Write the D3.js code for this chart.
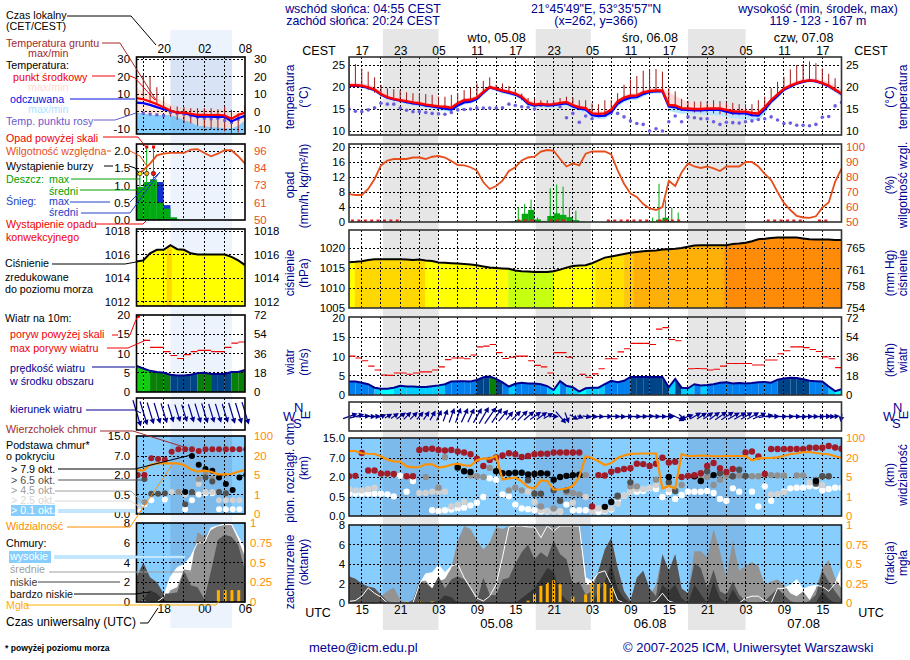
<!DOCTYPE html>
<html>
<head>
<meta charset="utf-8">
<script src="https://cdn.jsdelivr.net/npm/d3@7"></script>
<style>
  body { margin: 0; background: #fff; }
  text { font-family: "Liberation Sans", Arial, sans-serif; }
</style>
</head>
<body>
<svg width="910" height="660"></svg>
<script>
// ---- hourly values of the main panels, hour 0 = 13 UTC 04.08
const tempMid = [20.4,20.4,20.3,19.9,19.4,18.4,17.7,17.3,17.0,16.8,
  16.5,16.3,16.0,15.8,15.6,15.5,15.3,16.3,17.0,17.1,
  17.6,18.9,20.0,19.6,19.2,18.9,18.5,17.8,16.5,16.0,
  16.2,16.0,16.1,16.4,16.6,15.9,15.4,15.2,14.0,13.9,
  14.0,14.8,16.7,17.6,18.0,18.1,18.8,19.1,19.2,19.2,
  15.9,15.8,15.2,15.1,15.0,15.0,15.1,15.1,15.1,14.8,
  14.5,14.4,14.4,14.1,14.0,15.4,17.0,18.3,19.6,20.3,
  20.9,21.3,21.5,21.4,20.9,20.3,19.4,18.5];
const tempFeel = [20.3,20.3,20.2,19.8,19.3,18.3,17.6,17.2,16.9,16.6,
  16.3,16.1,15.8,15.6,15.3,15.1,14.9,15.8,16.5,16.7,
  17.3,18.7,19.9,19.5,19.0,18.7,18.3,17.6,16.2,15.8,
  16.0,15.8,15.9,16.1,16.3,15.6,15.1,14.9,13.6,13.4,
  13.5,14.3,16.2,17.1,17.6,17.7,18.4,18.9,19.0,19.0,
  15.6,15.4,14.9,14.8,14.7,14.7,14.8,14.8,14.8,14.4,
  14.1,14.0,14.0,13.6,13.5,14.9,16.7,18.0,19.4,20.1,
  20.8,21.2,21.5,21.3,20.8,20.2,19.3,18.4];
const tempHi = [21,21,20.9,20.6,20,19.2,18.6,18.1,17.6,17.3,
  17,16.8,16.4,16.2,16,16,15.8,16.8,17.5,17.6,
  18.2,19.5,20.5,20.1,19.7,19.4,19,18.6,17.2,16.6,
  16.8,16.6,16.7,17,17.2,16.5,16,15.8,14.6,14.5,
  14.5,15.4,17.2,18.2,18.6,18.7,19.4,19.7,19.8,19.8,
  18.8,18,17.3,16.6,16.2,16.1,16.1,16.2,16.1,15.8,
  15.4,15.2,15.2,15,14.8,16,17.5,18.8,20,20.8,
  21.5,21.9,22,22,21.6,21.2,20.5,19.5];
const tempLo = [20,20,19.8,19.4,18.8,17.9,17.2,16.8,16.4,16.1,
  15.8,15.5,15.2,15,14.7,14.5,14.3,15.2,16,16.2,
  16.8,18.2,19.5,19,18.5,18.2,17.8,17,15.6,15.2,
  15.4,15.2,15.3,15.5,15.7,15,14.5,14.2,13,12.7,
  12.8,13.6,15.6,16.5,17,17.1,17.8,18.4,18.5,18.5,
  14.6,14.2,13.9,13.9,13.8,13.8,13.7,13.6,13.5,13.1,
  12.9,12.8,12.6,12.4,12.5,13.8,16,17.4,18.9,19.7,
  20.4,20.9,21.1,21,20.4,19.7,18.8,17.8];
const groundMax = [26.5,25.2,24.2,23.5,22.2,20.5,19.7,19.5,19.3,18.8,
  18.6,18.6,18.4,18.2,17.8,17.8,18.2,18.6,19.3,19.8,
  20.8,21.4,22.2,20.5,20.8,20.2,19.5,18.5,17.5,17.3,
  17,17,17,17.5,17.8,17.6,17,17,16.3,16.1,
  17,17,18.6,20.5,21.7,22.5,23.7,24,24.1,23.5,
  19.7,19,17.3,16.8,16.7,16.7,16.7,17,16.8,16.5,
  16.4,16.1,16.1,16.1,17,17.8,19.7,21.2,22.3,24,
  25,25.2,25.8,25.4,24.2,23,22,19.8];
const groundMin = [20,20,19.8,19.3,18.7,17.8,17.4,17,16.6,16.3,
  16,15.8,15.5,15.3,15.2,15,14.9,16,16.6,16.8,
  17.3,18.6,19.6,19.3,19,18.6,18,17,16,15.7,
  15.8,15.7,15.7,15.9,16,15.4,14.9,14.7,13.6,13.4,
  13.4,14.4,16.4,17.2,17.6,17.8,18.5,18.8,18.8,18.8,
  15.6,15.3,14.6,14.4,14.2,14.2,14.2,14,13.8,13.6,
  13.6,13.6,13.5,13.3,13.4,14.8,16.6,18,19.2,20,
  20.6,21,21.2,21,20.6,20,19,18.2];
const dewPoint = [15,14.5,14.4,14.8,15.3,16.3,16.1,16.1,15.2,14.7,
  14.4,14.4,14.2,14,13.9,13.8,14.2,14.8,14.9,15,
  15.2,15.2,15.2,15.2,15.3,16.1,15.8,15.5,15.4,15,
  15.8,16,16.1,15.5,13,14,12,13.4,12.8,13.6,
  13.6,14.2,14,13.2,12.3,11.7,11.5,10,10.5,10,
  12.1,13.4,12.1,13.2,13,12.8,12.8,12.1,11.5,12,
  11.9,11.8,12.1,12.3,12.6,12.8,13.2,12.5,11.7,11.8,
  11.3,11.3,11.2,11.5,13.1,13.3,15.7,16.5];
const humidity = [68.6,68,68,72,78.7,87.7,91,92,92,92,
  93,93,92,93.5,94,93,90.6,88,87.7,86.5,
  84.3,76.5,72,74,77.6,84,86.5,91,93,93.5,
  97,98,97.5,92,87,89,87.7,95.5,97,97,
  97,95,84.4,75.5,69,66.7,62,59,58,60,
  77.5,74,83,89,87,86,87,85.7,84,87,
  87,87,90,90,87,82,78,70,62.7,58,
  54,53,52.7,53.8,59.6,63,76.7,85.6];
const rainMean = [[24,.1],[25,.2],[26,.5],[27,2.2],[28,3.2],[29,.7],[30,.3],[31,1.6],[32,2.3],[33,1.9],[34,1.3],[35,.5],[36,.1],
  [47,.1],[48,.6],[49,1.15],[50,.3],[51,.2],[52,.1]];
const rainMax = [[26,3.9],[27,4.8],[28,6],[29,1.2],[31,9],[32,10],[33,9.4],[34,4],[35,3],[47,1.2],[48,10.2],[49,5.8],[50,3.8],[51,2.5]];
const convective = [0,1,2,3,4,5,6,7,26,27,28,31,32,33,40,41,42,43,44,45,46,48,49,50,51,65,66,67,68,69,70,73,74];
const pressure = [1016.45,1016.55,1016.7,1017,1017.2,1017.2,1017.2,1017.2,1017.2,1017.1,
  1017,1017.1,1016.9,1016.75,1016.4,1016.3,1016.2,1016.1,1016,1015.9,
  1015.7,1015.4,1015.1,1015,1014.9,1014.8,1014.4,1014.2,1014.1,1014,
  1014,1014,1014.2,1014.6,1015.1,1015.5,1015.6,1015.7,1016.2,1016.9,
  1017.6,1017.9,1018.2,1018.5,1018.8,1019,1019.2,1019.3,1019.4,1019.6,
  1019.7,1019.8,1020,1020.3,1020.6,1020.7,1020.7,1020.7,1020.7,1020.7,
  1021,1021.1,1021.3,1021.7,1022.2,1022.3,1022.5,1022.6,1022.6,1022.6,
  1022.6,1022.4,1022.2,1022.1,1022.1,1022.1,1022,1022];
// pressure fill class runs: [hour where the run ends, class]
const pressureRuns = [[0.9,1],[11.9,2],[24.9,1],[31.9,0],[38.5,1],[43,3],[44.5,4],[58.7,5],[77,6]];
const windSpeed = [3.5,3.5,3.2,2.8,1.9,1.6,1.6,1.9,2.4,2.2,
  2.2,2.1,2.1,2.3,2.5,2.8,3.5,3.6,3.6,3.5,
  3.9,4.6,4.8,4.2,3.3,2.2,2.9,3.2,3,3,
  2.8,2.3,1.3,3.6,2.4,2,0.9,1.75,1.9,1.9,
  2.8,3.7,3.3,3.7,4.7,4.7,4.7,4.7,4.7,4.7,
  2,4.2,1.9,1.75,2.8,2.5,2.6,2.8,3.2,3.3,
  3,3.1,3,3.1,3.3,3.4,3.2,4,4.3,4.5,
  4.4,4.1,3.7,3.6,3.5,2.2,1,1.5];
const windGust = [10.1,9.6,8.9,7.5,6.5,5.2,5.1,5.7,5.7,5.4,
  5.7,6,6,6.5,7.3,9.2,9.6,9.6,9.4,10.4,
  12.5,12.7,13.1,11,9.5,9.8,10.1,10.1,8.9,7.7,
  7.3,5.7,11,11,9.8,null,5.4,4.6,5.5,6.8,
  9.4,9.4,11.2,12,13.4,13.4,13.4,13.1,17.1,17.5,
  14.4,14.1,null,6.8,6.9,6.8,6.5,6.7,7.5,8.2,
  8.2,8.2,8.2,7.8,7.8,9.1,9.1,10.7,11.5,12.5,
  12.5,12.3,11.8,11.3,9.9,9.4,7.1,4.9];
const windFrom = [250,255,265,270,265,250,240,235,235,225,
  225,220,215,210,205,200,200,200,205,205,
  210,210,215,215,220,220,225,225,230,235,
  235,240,270,320,340,300,290,280,275,272,
  270,270,272,270,270,270,268,270,270,270,
  268,295,310,250,240,238,236,235,236,238,
  240,240,238,240,245,260,268,270,270,270,
  272,270,270,270,268,270,265,10];
const visibility = [48,48,39,37,36,27,18.7,17.4,17.1,13.4,
  12.6,12.9,15,15,12.4,13.2,14.7,15.5,14.2,13.9,
  18.2,19.7,19.5,28,4.5,4.7,4.9,4.1,3,2.7,
  4.3,4.2,2.5,2.5,2.7,3.2,5,27,20,17.4,
  14.5,16,20.5,30,36.7,37,38,38,38,2.7,
  3.2,2.7,35,28,28,30,29,27,27,28,
  28,28,28,18.2,19.7,20,20.5,22.6,29,36,
  38,43,44,40,37,35,27,21];
// cloud base / top as [hour, km]
const cloudTop = [[0,2.2],[1,2.3],[2,9],[3,3.7],[4,3.7],[5,2.9],[6,2.9],[7,2.8],[9,2.2],[10,2.2],[11,10.2],[12,10.6],[13,10.7],[14,10.2],[15,10],[16,10.2],[17,9.6],[18,9.2],[19,8.5],[20,6.8],[21,4.9],[22,6.5],[23,7.2],[24,8],[25,8.9],[26,8.5],[27,7.4],[28,7.8],[29,8.5],[30,8.7],[31,8.7],[32,9.2],[33,9.2],[34,9.2],[35,9.2],[36,9.2],[38,.25],[39,2.5],[40,2.4],[41,3.4],[42,3.8],[43,4.1],[44,4.3],[45,5.5],[46,5.4],[47,4.9],[48,5.5],[49,7.1],[50,5.8],[51,6],[52,2],[53,2.3],[54,2.5],[55,3],[56,4.9],[57,5.7],[58,4.3],[59,3.3],[60,4.1],[62,9.2],[63,9.6],[64,7.6],[65,2.8],[66,10.6],[67,10.6],[68,10.6],[69,10.6],[70,10.6],[71,10.6],[72,11.1],[73,11.1],[74,11.1],[75,11.8],[76,11.2],[77,10.7]];
const base79 = [[17,4.6],[18,3.5],[19,3.3],[23,3.5],[24,3],[25,3],[26,3.1],[27,3.1],[28,2.7],[29,2.8],[30,3],[31,2.9],[32,1.8],[33,2],[34,2.3],[35,2.5],[36,2.6],[40,.24],[41,.37],[50,2],[54,2.2],[55,1.7],[57,2.5],[73,1.7]];
const base65 = [[17,4.4],[28,1.75],[29,.75],[30,.75],[32,1],[33,.4],[34,1],[42,.6],[44,1.6],[50,1.6],[51,.95],[56,3.5],[58,3],[60,2.2],[61,3.9],[62,2.3],[73,1.5],[74,2.2],[75,2.2]];
const base45 = [[6,2.9],[12,2],[14,1.2],[15,7.3],[19,2.4],[20,2.2],[21,2],[22,4.4],[25,1],[26,1.2],[27,1],[30,.25],[32,.2],[34,.85],[35,.8],[36,.7],[37,2.5],[42,.5],[44,1.3],[45,1.3],[48,1.8],[52,1.4],[55,1.85],[56,2],[57,1.4],[58,1.8],[59,2.3],[60,2.2],[61,2.4],[62,2.2],[63,2.2],[64,2.2],[65,2.7],[66,2.5],[67,2.4],[68,2.4],[70,2.4],[71,2.4],[73,1.8]];
const base25 = [[0,1.1],[1,1],[2,1],[3,1.1],[4,1.2],[6,2.7],[7,2.7],[11,.8],[12,.8],[13,.9],[14,.9],[15,.9],[16,.25],[17,.3],[18,.37],[28,.9],[29,.37],[30,.15],[31,.13],[32,.12],[33,.12],[35,.35],[37,.5],[38,.12],[39,.2],[40,.15],[41,.2],[42,.32],[43,.6],[44,.9],[45,1.1],[46,1.1],[47,1.2],[48,1.4],[50,1.1],[66,.7],[67,.72],[68,.85],[72,1.6],[73,1.5],[74,1.4]];
const base01 = [[0,.75],[1,.75],[2,.75],[3,.75],[4,.75],[5,.75],[6,.7],[7,.55],[8,2.3],[9,.9],[10,1.7],[13,.15],[14,.13],[15,.15],[16,.17],[17,.2],[18,.22],[19,.28],[20,.35],[21,.5],[22,1.9],[23,1.8],[24,.7],[25,.55],[26,.3],[27,.2],[28,.18],[29,.15],[30,.12],[31,.12],[32,.12],[33,.12],[34,.3],[35,.15],[36,.15],[37,.15],[38,.13],[39,.11],[40,.13],[41,.17],[42,.4],[43,.6],[44,.9],[45,.9],[46,.95],[47,1.15],[48,1.1],[49,.5],[50,.85],[51,.45],[52,.65],[53,.9],[54,.9],[55,.9],[56,.95],[57,.8],[58,.45],[59,.4],[60,1.15],[61,.9],[63,.9],[64,.25],[65,1.3],[66,.4],[68,.9],[69,1.15],[70,1.2],[71,1.2],[72,1.3],[73,1.3],[74,1],[75,1.1],[76,1.2],[77,1.2]];
const coverHigh = [.17,.25,.7,1.55,1,.6,0,0,0,0,
  0,1.9,3,3.1,3.9,3.1,3.8,4,2.6,1.55,
  .5,.2,.7,1.9,4.7,7.8,7.9,7.9,7.8,7.8,
  6.7,7.9,7.4,7.9,7.9,7.9,7.9,2.6,2.2,3.1,
  3.3,1.9,.3,0,0,0,0,0,.2,1,
  .2,0,0,0,0,0,0,0,0,0,
  0,0,.5,.7,.7,.2,0,1.5,1.5,1.8,
  2.4,1.4,1.7,1.8,1.7,1.2,2,3.6];
const coverMid = [0,0,0,0,0,.7,1.2,1.6,.35,0,
  0,2.2,2.3,1.5,2.2,2.5,3.6,6.4,7.9,7.6,
  6.4,5.5,6.2,7.8,7.6,7.9,7.9,7.9,7.9,7.9,
  7.9,7.9,7.9,7.9,7.9,7.9,7.9,1.9,1.9,3.3,
  5.5,6.7,3.6,1.2,.2,2.6,3.3,.7,1.9,5,
  3.3,5,1.5,1,5.3,5.3,4.7,7.6,5.3,2.6,
  6.4,3.3,3.8,4.2,3.8,1.9,2.2,2.4,1.9,1,
  .7,1.2,.3,1.5,3.6,4.4,2.6,1.5];
const coverLow = [2.75,2.5,2,1.7,1.55,.85,.2,0,0,0,
  .3,2.2,2,1.5,2.75,1.5,2.4,2.75,2.4,1.5,
  .2,2.6,.85,.8,2.4,2.6,4,5.2,6,4.5,
  5.2,4.7,6.4,5,4.5,1.9,2.2,.85,1.2,3.3,
  5.5,6.7,3.6,1.2,.2,2.6,3.3,1.5,.7,5,
  3.3,5,1.5,1,4.1,3.6,1.5,3.4,1.2,.85,
  2.2,.85,.2,0,0,.2,.85,1.5,.85,.2,
  0,0,.2,.85,3.3,2.2,1.2,.3];
const coverVeryLow = [0,0,0,0,0,0,0,0,0,0,
  0,0,0,0,.2,.8,.6,0,0,0,
  0,0,0,0,0,0,0,.5,1,1.5,
  2.5,3.6,3.2,1,.3,0,0,0,0,1.2,
  2.2,4,1.5,.5,0,0,0,0,0,1.9,
  1.2,1.9,.5,0,1.9,.9,0,2.2,.5,0,
  1.4,.3,0,0,0,0,0,0,0,0,
  0,0,0,0,1.2,.4,0,0];
const fog = [[9,.02],[11,.02],[13,.02],[28,.03],[29,.12],[30,.22],[31,.26],[32,.29],[33,.24],[35,.08],[37,.11],[38,.26],[39,.25],[40,.26],[41,.19]];

// ---- axis labels
const cestLabels = ['17','23','05','11','17','23','05','11','17','23','05','11','17'];
const utcLabels = ['15','21','03','09','15','21','03','09','15','21','03','09','15'];
const dateLabels = ['wto, 05.08','śro, 06.08','czw, 07.08'];
const utcDates = ['05.08','06.08','07.08'];

// ---- hourly values of the small panels, hour 0 = 16 CEST 04.08
const lTemp = [7.6,7,5.7,4.2,2.5,.6,-.6,-.6,-1.3,-1.9,-1.9,-2,-1.9,-2.3,-4.2,-2,-.6];
const lFeel = [5.1,4.8,3.8,2.5,1.3,.4,-.6,-1,-1.9,-2.9,-2.9,-2.9,-3.2,-2.9,-5.7,-3.8,-2.5];
const lTempHi = [13.3,11.4,9.5,7.6,5.7,3.8,2.5,1.9,1.5,1.3,1.3,1,1,1,-.9,0,.4];
const lFeelHi = [-.9,-.9,-1.9,-1.9,-1.9,-1.9,-3.2,-4.8,-6,-8.2,-8.2,-9,-9,-9.5,-9.5,-8,-4.8];
const lGroundMax = [null,21,19.8,13.9,8.6,2.9,2.9,2.5,1.9,1.9,1.9,1.9,1.3,2.9,1,-1,3.2];
const lGroundMin = [null,8.6,4.8,3.8,1,-2.9,-4.8,-6.7,-6.7,-8.2,-9.5,-10,-10.9,-11.4,-12.4,-12,-1.9];
const lDew = [null,-1,-1.5,-1.9,-2.3,-.6,-1,-1.5,-2.5,-3.2,-3.8,-4.2,-3.8,-5.1,-6.3,-4.4,-3];
const lRainMean = [.96,1.1,1.18,.5,.33,.08,0,0,0,0,0,0,0,0,0,0];
const lSnowMean = [0,0,0,1.1,.43,0,0,0,0,0,0,0,0,0,0,0];
const lRainMax = [[0,1.35],[1,2.1],[2,2.1]];
const lStorm = [[0,1],[1,2],[2,3]];
const lConvective = [0,1,2,3];
const lHumidity = [79.9,83.2,87.6,93.1,94.2,94.7,94.7,94.7,96.9,97.3,94.7,92.5,94.2,96.5,96.5,92.5,87.6];
const lPressure = [1015.4,1015.5,1016.1,1016.4,1016.4,1016.8,1016.45,1016.4,1016.1,1016,1016,1016,1016,1016,1015.8,1015.5,1015.1];
const lPressureRuns = [[4.45,1],[5.2,2],[16,1]];
const lWindSpeed = [6.8,6.1,5.5,5.2,5,4.5,4.3,4.3,4.5,4.9,5,4.7,4.7,4.7,5.2,5.2,5.7];
const lWindGust = [null,13.4,11.6,11.6,10.5,9.5,8.7,9.7,10.5,10.8,10.8,10.5,10.5,11.6,12.7,13];
const lWindFrom = [343,343,343,343,343,343,343,343,343,343,343,343,343,343,343,343,343];
const lVisibility = [9,8.4,12.9,14.2,14.2,14.2,14.2,12.9,9.5,7.6,8.4,7.6,5.5,5.5,5.8,7.6,9];
const lCloudTop = [[0,2],[1,2],[2,6.4],[3,6.2],[4,6],[5,8.7],[6,9.7],[7,9.7],[8,9.7],[9,9],[10,9.7],[11,9.7],[12,9.7],[13,9.7],[14,9.7],[15,9.7],[16,9.7]];
const lBase79 = [[7,.7],[8,7],[9,4.7],[10,3.6],[11,3.1],[12,1.8],[13,1.3],[14,.85],[15,1.8],[16,2]];
const lBase65 = [[1,1.7],[2,.55],[3,.55],[4,.6],[7,.25],[8,.7],[10,1.8],[11,1.5],[12,.7],[13,.6]];
const lBase45 = [[1,.3],[6,.7],[8,.65],[9,1.7],[10,2.2],[11,1.7]];
const lBase25 = [[0,.2],[5,.7],[6,.7],[7,.5],[9,1.3],[10,.7],[11,.7],[12,.35],[13,.35],[14,.35],[15,.35]];
const lBase01 = [[0,.12],[1,.25],[2,.35],[4,.37],[7,.12],[8,.35],[9,.5],[10,.6],[11,.6],[12,.12],[13,.12],[14,.12],[15,.12]];
const lCoverHigh = [0,.1,0,0,.5,2.55,3.5,3.8,4.6,6,6,7.5,7.7,7.9,7.9,6.6,5.4];
const lCoverMid = [0,0,0,0,0,1.2,1.5,3.3,3.2,7.1,6.6,7.3,7.7,7.8,7.8,6.3,4.6];
const lCoverLow = [2.5,4,2.5,2,.85,.85,1,3.2,1.7,1.5,.3,3.2,6.3,6.8,6.6,5.8,3.2];
const lCoverVeryLow = [0,.3,1.2,.85,.2,0,0,0,0,0,0,0,0,0,0,0,0];
const lFog = [[12,.15],[13,.15],[14,.15],[15,.15]];

const svg = d3.select("svg");
const navy = "#000090", humColor = "#e84e1c", visColor = "#ff8c00";
const sky = "#87ceff", skyNight = "#7cbaec";
const rainGreen = "#00aa10", baseColors = ["#ffffff","#d2d2d2","#909090","#505050","#000000"];
const pressureColors = ["#c6ff10","#ffff00","#ffd800","#ffe000","#ffc810","#ffb008","#ff8c08"];
const stormColors = d3.scaleOrdinal([1,2,3],["#ffee00","#ffaa00","#ff1010"]);
const windColor = d3.scaleThreshold().domain([1.7,2.55,3.8,4.8,5.6])
  .range(["#00ffff","#00ccff","#0080f0","#004488","#088008","#11cc11"]);

// day/night columns behind everything
const xM = d3.scaleLinear().domain([0,77]).range([349,841.5]);
const xL = d3.scaleLinear().domain([0,16]).range([136.5,245]);
const nightM = [[5.3,14],[29.2,37.8],[53,62]];
nightM.forEach(d => svg.append("rect").attr("x",xM(d[0])).attr("y",29)
  .attr("width",xM(d[1])-xM(d[0])).attr("height",601).attr("fill","#e6e6e6"));
svg.append("rect").attr("x",xL(5)).attr("y",30).attr("width",xL(14.1)-xL(5)).attr("height",598).attr("fill","#ecf3fd");

let clipId = 0;
function panel(x, top, bottom) {
  const [x0,x1] = x.range();
  const id = "clip" + (clipId++);
  svg.append("clipPath").attr("id",id).append("rect")
    .attr("x",x0).attr("y",top).attr("width",x1-x0).attr("height",bottom-top);
  const g = svg.append("g").attr("clip-path",`url(#${id})`);
  return {g, x, top, bottom, x0, x1};
}
function sky_bg(p, nights) {
  p.g.append("rect").attr("x",p.x0).attr("y",p.top).attr("width",p.x1-p.x0).attr("height",p.bottom-p.top).attr("fill",sky);
  nights.forEach(d => p.g.append("rect").attr("x",p.x(d[0])).attr("y",p.top)
    .attr("width",p.x(d[1])-p.x(d[0])).attr("height",p.bottom-p.top).attr("fill",skyNight));
}
function grid(p, xTicks, y, yTicks) {
  const d = p.g.append("g").attr("stroke","#000").attr("stroke-width",1).attr("stroke-dasharray","2,2")
    .attr("shape-rendering","crispEdges");
  xTicks.forEach(h => d.append("line").attr("x1",p.x(h)).attr("x2",p.x(h)).attr("y1",p.top).attr("y2",p.bottom));
  yTicks.forEach(v => d.append("line").attr("x1",p.x0).attr("x2",p.x1).attr("y1",y(v)).attr("y2",y(v)));
}
function frame(p, color) {
  svg.append("rect").attr("x",p.x0).attr("y",p.top).attr("width",p.x1-p.x0).attr("height",p.bottom-p.top)
    .attr("fill","none").attr("stroke",color).attr("stroke-width",1.6);
}
function line(p, values, y, color, width) {
  p.g.append("path").attr("fill","none").attr("stroke",color).attr("stroke-width",width)
    .attr("d",d3.line().defined(d => d != null).x((d,i) => p.x(i)).y(d => y(d))(values));
}
function band(p, hi, lo, y, color) {
  p.g.append("path").attr("fill",color)
    .attr("d",d3.area().x((d,i) => p.x(i)).y0((d,i) => y(lo[i])).y1(d => y(d))(hi));
}
function fillTo(p, values, y, color) {
  p.g.append("path").attr("fill",color)
    .attr("d",d3.area().x((d,i) => p.x(i)).y0(p.bottom).y1(d => y(d))(values));
}
function yAxis(orient, pos, y, ticks, labels, color) {
  const ax = (orient == "left" ? d3.axisLeft(y) : d3.axisRight(y)).tickValues(ticks).tickSize(0).tickPadding(0)
    .tickFormat((d,i) => labels ? labels[i] : d);
  const g = svg.append("g").attr("transform",`translate(${pos},0)`).call(ax);
  g.select(".domain").remove();
  g.attr("font-size",11.4).attr("font-family",null).attr("color",color || "#000");
}
function sticks(p, rows, y, color, width, base) {
  p.g.selectAll(null).data(rows).enter().append("line").attr("stroke",color).attr("stroke-width",width)
    .attr("x1",d => p.x(d[0])+base).attr("x2",d => p.x(d[0])+base)
    .attr("y1",d => y(d[1])).attr("y2",d => d[2] == null ? p.bottom : y(d[2]));
}
function dots(p, rows, y, color, r, shift) {
  p.g.selectAll(null).data(rows).enter().append("circle")
    .attr("cx",d => p.x(d[0])+(shift||0)).attr("cy",d => y(d[1])).attr("r",r).attr("fill",color);
}

// ---------- temperature panels
function drawTemp(x, top, bottom, y, tm, tf, hi, lo, gHi, gLo, dew, xTicks, yTicks, mainStyle) {
  const p = panel(x, top, bottom);
  band(p, hi, tf, y, "#ffdcdc");
  band(p, tf, lo, y, "#b8e4ff");
  grid(p, xTicks, y, yTicks);
  const rows = gHi.map((d,i) => [i,d,gLo[i]]).filter(d => d[1] != null);
  sticks(p, rows, y, "#a01818", 1, 0);
  if (mainStyle) dots(p, dew.map((d,i) => [i,d]), y, "#6a60e0", 1.8);
  else p.g.selectAll(null).data(dew.map((d,i) => [i,d]).filter(d => d[1] != null)).enter().append("rect")
    .attr("x",d => p.x(d[0])-1.5).attr("y",d => y(d[1])-1.5).attr("width",3).attr("height",3).attr("fill","#6a5acd");
  line(p, tf, y, "#0000ff", 2.4);
  line(p, tm, y, "#ff0000", 2.4);
  return p;
}
const yT = d3.scaleLinear().domain([10,25]).range([131,65]);
const yTL = d3.scaleLinear().domain([-10,30]).range([129,59]);
const gridM = d3.range(2,76,3), gridL = [1,4,7,10,13];
frame(drawTemp(xM,57,135,yT,tempMid,tempFeel,tempHi,tempLo,groundMax,groundMin,dewPoint,gridM,[10,15,20,25],true),"#333");
const pTL = panel(xL,57,134);
fillTo(pTL, lFeelHi, yTL, "#86d0ff");
band(pTL, lTempHi, lFeelHi, yTL, "#ffe6da");
pTL.g.append("rect").attr("x",xL(5)).attr("y",57).attr("width",xL(14.1)-xL(5)).attr("height",77).attr("fill","#7090d0").attr("opacity",.16);
grid(pTL, gridL, yTL, [-10,0,10,20,30]);
sticks(pTL, lGroundMax.map((d,i) => [i,d,lGroundMin[i]]).filter(d => d[1] != null), yTL, "#a01818", 1, 0);
pTL.g.selectAll(null).data(lDew.map((d,i) => [i,d]).filter(d => d[1] != null)).enter().append("rect")
  .attr("x",d => xL(d[0])-1.5).attr("y",d => yTL(d[1])-1.5).attr("width",3).attr("height",3).attr("fill","#6a5acd");
line(pTL, lFeel, yTL, "#0000ff", 2.2);
line(pTL, lTemp, yTL, "#ff0000", 2.2);
frame(pTL,"#000");

// ---------- precipitation and humidity
const yR = d3.scaleLinear().domain([0,20]).range([222,147]);
const yH = d3.scaleLinear().domain([50,100]).range([222,147]);
const pR = panel(xM,144,222);
pR.g.selectAll(null).data(rainMean).enter().append("rect")
  .attr("x",d => xM(d[0])).attr("width",xM(1)-xM(0)).attr("y",d => yR(d[1])).attr("height",d => 222-yR(d[1])).attr("fill",rainGreen);
grid(pR, gridM, yR, [0,4,8,12,16,20]);
sticks(pR, rainMax, yR, rainGreen, 1, 3);
line(pR, humidity, yH, humColor, 1.8);
pR.g.selectAll(null).data(convective).enter().append("rect")
  .attr("x",d => xM(d)+2).attr("y",219.5).attr("width",3).attr("height",2.5).attr("fill","#e02020");
frame(pR,"#333");

const yRL = d3.scaleLinear().domain([0,2]).range([220,151]);
const yHL = d3.scaleLinear().domain([50,96]).range([220,151]);
const pRL = panel(xL,144,220);
pRL.g.selectAll(null).data(lSnowMean).enter().append("rect")
  .attr("x",(d,i) => xL(i)).attr("width",xL(1)-xL(0)).attr("y",d => yRL(d)).attr("height",d => 220-yRL(d)).attr("fill","#1030d0");
pRL.g.selectAll(null).data(lRainMean).enter().append("rect")
  .attr("x",(d,i) => xL(i)).attr("width",xL(1)-xL(0)).attr("y",d => yRL(d)).attr("height",d => 220-yRL(d)).attr("fill",rainGreen);
grid(pRL, gridL, yRL, [0,.5,1,1.5,2]);
sticks(pRL, lRainMax, yRL, rainGreen, 1, 3.4);
line(pRL, lHumidity, yHL, humColor, 1.8);
pRL.g.selectAll(null).data(lRainMax.filter(d => d[1] > 2)).enter().append("rect")
  .attr("x",d => xL(d[0])+2).attr("y",145.5).attr("width",3).attr("height",3).attr("fill","#e00000");
pRL.g.selectAll(null).data(lStorm).enter().append("circle")
  .attr("cx",d => xL(d[0])+3.4).attr("cy",173.5).attr("r",2.2).attr("fill",d => stormColors(d[1])).attr("stroke","#222").attr("stroke-width",.7);
pRL.g.selectAll(null).data(lConvective).enter().append("rect")
  .attr("x",d => xL(d[0])+2).attr("y",218.5).attr("width",3).attr("height",1.5).attr("fill","#e02020");
frame(pRL,"#000");

// ---------- pressure
function drawPressure(x, top, bottom, y, values, runs, yTicks, xTicks, color) {
  const p = panel(x, top, bottom);
  const mask = "pmask" + top;
  svg.append("clipPath").attr("id",mask).append("path")
    .attr("d",d3.area().x((d,i) => x(i)).y0(bottom).y1(d => y(d))(values));
  let start = 0;
  runs.forEach(r => {
    p.g.append("rect").attr("x",x(start)).attr("y",top).attr("width",x(r[0])-x(start)+.5).attr("height",bottom-top)
      .attr("fill",pressureColors[r[1]]).attr("clip-path",`url(#${mask})`);
    start = r[0];
  });
  grid(p, xTicks, y, yTicks);
  line(p, values, y, "#000", 2);
  frame(p, color);
}
const yP = d3.scaleLinear().domain([1005,1020]).range([308,248]);
const yPL = d3.scaleLinear().domain([1012,1018]).range([301.5,231]);
drawPressure(xM,230,308,yP,pressure,pressureRuns,[1005,1010,1015,1020],gridM,"#333");
drawPressure(xL,229,306,yPL,lPressure,lPressureRuns,[1012,1014,1016,1018],gridL,"#000");

// ---------- wind
function drawWind(x, top, bottom, y, speed, gust, xTicks, yTicks, color) {
  const p = panel(x, top, bottom);
  d3.pairs(speed).forEach((pair,i) => {
    p.g.append("path").attr("fill",windColor(speed[i]))
      .attr("d",d3.area().x((d,j) => x(i+j)).y0(bottom).y1(d => y(d))(pair));
  });
  grid(p, xTicks, y, yTicks);
  p.g.selectAll(null).data(gust.map((d,i) => [i,d]).filter(d => d[1] != null)).enter().append("line")
    .attr("x1",d => x(d[0])).attr("x2",d => x(d[0]+1)).attr("y1",d => y(d[1])).attr("y2",d => y(d[1]))
    .attr("stroke","#f00000").attr("stroke-width",1.1);
  line(p, speed, y, navy, 2);
  frame(p, color);
  return p;
}
const yW = d3.scaleLinear().domain([0,20]).range([395,318]);
const yWL = d3.scaleLinear().domain([0,20]).range([392,315]);
drawWind(xM,317,395,yW,windSpeed,windGust,gridM,[5,10,15],"#333");
const pWL = drawWind(xL,315,392,yWL,lWindSpeed,lWindGust,gridL,[5,10,15],"#000");
pWL.g.append("circle").attr("cx",138.5).attr("cy",316.5).attr("r",1.5).attr("fill","#f00000");

// ---------- wind direction
function drawDir(x, top, bottom, from, speed, cy, xTicks, color, overflow) {
  const p = panel(x, top, bottom);
  grid(p, xTicks, d3.scaleLinear(), []);
  const g = overflow ? svg.append("g") : p.g;
  from.forEach((deg,i) => {
    const a = deg*Math.PI/180, L = Math.max(4,speed[i]*3.6);
    const dx = -Math.sin(a), dy = Math.cos(a);
    const hx = x(i)+dx*L/2, hy = cy+dy*L/2;
    g.append("line").attr("x1",x(i)-dx*L/2).attr("y1",cy-dy*L/2).attr("x2",hx).attr("y2",hy)
      .attr("stroke",navy).attr("stroke-width",1.2);
    g.append("path").attr("fill",navy)
      .attr("transform",`translate(${hx},${hy}) rotate(${deg+180})`)
      .attr("d","M0,-2.8L2.8,2.5L-2.8,2.5Z");
  });
  frame(p,color);
}
drawDir(xM,402,431,windFrom,windSpeed,416.5,gridM,"#333",true);
drawDir(xL,398,430,lWindFrom,lWindSpeed,412,gridL,"#000",true);

// ---------- cloud base, top and visibility
function drawBases(x, top, bottom, yBase, yVis, rows, topRows, vis, nights, xTicks, ticks, r, shift) {
  const p = panel(x, top, bottom);
  sky_bg(p, nights);
  grid(p, xTicks, yBase, ticks);
  rows.forEach((s,i) => dots(p, s, yBase, baseColors[i], r, shift));
  dots(p, topRows, yBase, "#a01c28", r, shift);
  line(p, vis, yVis, "#ff9000", 2.2);
  return p;
}
const yC = d3.scaleLinear().domain([0,.5,2,7,15]).range([516,497,477,458,438]);
const yV = d3.scaleLinear().domain([0,1,5,20,100]).range([516,497,477,458,438]);
const yCL = d3.scaleLinear().domain([0,.5,2,7,15]).range([514,494.5,475,456,436]);
const yVL = d3.scaleLinear().domain([0,1,5,20,100]).range([514,494.5,475,456,436]);
frame(drawBases(xM,438,516,yC,yV,[base01,base25,base45,base65,base79],cloudTop,visibility,nightM,gridM,[.5,2,7],3.2,0),"#222");
frame(drawBases(xL,436,514,yCL,yVL,[lBase01,lBase25,lBase45,lBase65,lBase79],lCloudTop,lVisibility,[[5,14.1]],gridL,[.5,2,7],3,1.2),"#000");

// ---------- cloud cover and fog
function drawCover(x, top, bottom, y, yFog, high, mid, low, vlow, fogRows, nights, xTicks, barShift) {
  const p = panel(x, top, bottom);
  sky_bg(p, nights);
  fillTo(p, high, y, "#ffffff");
  fillTo(p, mid, y, "#939393");
  fillTo(p, low, y, "#555555");
  fillTo(p, vlow, y, "#353535");
  line(p, high, y, "#ffffff", 1);
  p.g.selectAll(null).data(fogRows).enter().append("rect")
    .attr("x",d => x(d[0])-1.5+barShift).attr("width",3).attr("y",d => yFog(d[1])).attr("height",d => bottom-yFog(d[1])).attr("fill","#ffb000");
  grid(p, xTicks, y, [2,4,6]);
  return p;
}
const yO = d3.scaleLinear().domain([0,8]).range([603,525]);
const yF = d3.scaleLinear().domain([0,1]).range([603,525]);
const yOL = d3.scaleLinear().domain([0,8]).range([602,523]);
const yFL = d3.scaleLinear().domain([0,1]).range([602,523]);
frame(drawCover(xM,525,603,yO,yF,coverHigh,coverMid,coverLow,coverVeryLow,fog,nightM,gridM,0),"#222");
frame(drawCover(xL,523,602,yOL,yFL,lCoverHigh,lCoverMid,lCoverLow,lCoverVeryLow,lFog,[[5,14.1]],gridL,.5),"#000");

// ---------- y tick labels, main panels
const left = 345, right = 846;
yAxis("left",left,yT,[10,15,20,25]);
yAxis("right",right,yT,[10,15,20,25]);
yAxis("left",left,yR,[0,4,8,12,16,20]);
yAxis("right",right,yH,[50,60,70,80,90,100],null,humColor);
yAxis("left",left,yP,[1005,1010,1015,1020]);
yAxis("right",right,d3.scaleLinear().domain([754,765]).range([308,248]),[754,758,761,765]);
yAxis("left",left,yW,[0,5,10,15,20]);
yAxis("right",right,d3.scaleLinear().domain([0,72]).range([395,318]),[0,18,36,54,72]);
yAxis("left",left,yC,[0,.5,2,7,15],["0.0","0.5","2.0","7.0","15.0"]);
yAxis("right",right,yV,[0,1,5,20,100],null,visColor);
yAxis("left",left,yO,[0,2,4,6,8]);
yAxis("right",right,yF,[0,.25,.5,.75,1],null,visColor);

// y tick labels, small panels
const leftS = 130, rightS = 254;
yAxis("left",leftS,yTL,[-10,0,10,20,30]);
yAxis("right",rightS,yTL,[-10,0,10,20,30]);
yAxis("left",leftS,yRL,[0,.5,1,1.5,2],["0.0","0.5","1.0","1.5","2.0"]);
yAxis("right",rightS,d3.scaleLinear().domain([50,61,73,84,96]).range([220,203,185,168,151]),[50,61,73,84,96],null,humColor);
yAxis("left",leftS,yPL,[1012,1014,1016,1018]);
yAxis("right",rightS,yPL,[1012,1014,1016,1018]);
yAxis("left",leftS,yWL,[0,5,10,15,20]);
yAxis("right",rightS,d3.scaleLinear().domain([0,72]).range([392,315]),[0,18,36,54,72]);
yAxis("left",leftS,yCL,[0,.5,2,7,15],["0.0","0.5","2.0","7.0","15.0"]);
yAxis("right",rightS,yVL,[0,1,5,20,100],null,visColor);
yAxis("left",leftS,yOL,[0,2,4,6,8]);
yAxis("right",rightS-4,yFL,[0,.25,.5,.75,1],null,visColor);

// ---------- x axes
function xAxis(fn, x, ticks, labels, yPos, size) {
  const g = svg.append("g").attr("transform",`translate(0,${yPos})`)
    .call(fn(x).tickValues(ticks).tickSize(0).tickPadding(0).tickFormat((d,i) => labels[i]));
  g.select(".domain").remove();
  g.attr("font-size",size).attr("font-family",null).attr("color","#000");
}
const hourTicks = d3.range(2,75,6);
xAxis(d3.axisTop, xM, hourTicks, cestLabels, 55, 12);
xAxis(d3.axisBottom, xM, hourTicks, utcLabels, 605, 12);
xAxis(d3.axisTop, xM, [23,47,71], dateLabels, 42, 12.6);
xAxis(d3.axisBottom, xM, [23,47,71], utcDates, 619, 13);
xAxis(d3.axisTop, xL, [4,10,16], ['20','02','08'], 53, 12);
xAxis(d3.axisBottom, xL, [4,10,16], ['18','00','06'], 604, 12);

// ---------- texts
function label(x, y, s, color, anchor, size) {
  return svg.append("text").attr("x",x).attr("y",y).attr("fill",color || "#000")
    .attr("text-anchor",anchor || "start").attr("font-size",size || 12).text(s);
}
function vlabel(x, y, s, size) {
  svg.append("text").attr("transform",`translate(${x},${y}) rotate(-90)`).attr("fill",navy)
    .attr("text-anchor","middle").attr("font-size",size || 12).text(s);
}
label(363,13,"wschód słońca: 04:55 CEST",navy,"middle",12.4);
label(363,25,"zachód słońca: 20:24 CEST",navy,"middle",12.4);
label(596,13,"21°45'49\"E, 53°35'57\"N",navy,"middle",12.4);
label(596,25,"(x=262,  y=366)",navy,"middle",12.4);
label(818,13,"wysokość (min, środek, max)",navy,"middle",12.4);
label(818,25,"119 - 123 - 167 m",navy,"middle",12.4);
label(319,55,"CEST","#000","middle",12.5);
label(871,55,"CEST","#000","middle",12.5);
label(318,617,"UTC","#000","middle",12.5);
label(871,617,"UTC","#000","middle",12.5);
label(309,652,"meteo@icm.edu.pl",navy,"start",13);
label(623,652,"© 2007-2025 ICM, Uniwersytet Warszawski",navy,"start",13);

[[294,97,"temperatura"],[308,97,"(°C)"],[294,185,"opad"],[308,186,"(mm/h, kg/m²/h)"],
 [294,273,"ciśnienie"],[308,273,"(hPa)"],[294,362,"wiatr"],[308,362,"(m/s)"],
 [294,471,"pion. rozciągł. chm."],[308,468,"(km)"],[294,572,"zachmurzenie"],[308,562,"(oktanty)"],
 [894,97,"(°C)"],[907,97,"temperatura"],[894,185,"(%)"],[907,185,"wilgotność wzgl."],
 [894,273,"(mm Hg)"],[907,273,"ciśnienie"],[894,360,"(km/h)"],[907,360,"wiatr"],
 [894,475,"(km)"],[907,475,"widzialność"],[894,563,"(frakcja)"],[907,563,"mgła"]]
 .forEach(d => vlabel(d[0],d[1],d[2]));

// compass roses next to the wind direction panels
[[283,421,"W"],[294,412,"N"],[293,428,"S"],[883,421,"W"],[893,412,"N"],[892,428,"S"]]
 .forEach(d => label(d[0],d[1],d[2],navy,"start",13));
[[310,415],[908,415]].forEach(d => svg.append("text").attr("transform",`translate(${d[0]},${d[1]}) rotate(-90)`)
  .attr("fill",navy).attr("text-anchor","middle").attr("font-size",13).text("E"));

// left legend
const brown = "#a52a2a", red = "#f00000", green = "#00a000", blue = "#2040c8";
const rows = [
 [6,19,"Czas lokalny","#000"],[6,30,"(CET/CEST)","#000"],
 [6,47,"Temperatura gruntu",brown],[28,57,"max/min",brown],[6,69,"Temperatura:","#000"],
 [13,81,"punkt środkowy",red],[28,91,"max/min","#ffdcd0"],[10,103,"odczuwana","#0010e0"],
 [28,113,"max/min","#aee2ff"],[6,125,"Temp. punktu rosy","#6a5acd"],
 [6,142,"Opad powyżej skali",red],[6,155,"Wilgotność względna",humColor],[6,170,"Wystąpienie burzy","#000"],
 [6,183,"Deszcz:",green],[49,183,"max",green],[49,195,"średni",green],
 [6,205,"Śnieg:",blue],[49,205,"max",blue],[49,216,"średni",blue],
 [6,228,"Wystąpienie opadu",red],[6,241,"konwekcyjnego",red],
 [5,267,"Ciśnienie","#000"],[5,281,"zredukowane","#000"],[5,293,"do poziomu morza","#000"],
 [5,322,"Wiatr na 10m:","#000"],[10,338,"poryw powyżej skali",red],[10,352,"max porywy wiatru",red],
 [10,372,"prędkość wiatru",navy],[10,385,"w środku obszaru",navy],[10,413,"kierunek wiatru",navy],
 [6,433,"Wierzchołek chmur",brown],[6,449,"Podstawa chmur*","#000"],[6,460,"o pokryciu","#000"],
 [11,473,"> 7.9 okt.","#000"],[11,484,"> 6.5 okt.","#505050"],[11,494,"> 4.5 okt.","#a0a0a0"],[11,504,"> 2.5 okt.","#d8d8d8"],
 [6,530,"Widzialność",visColor],[6,547,"Chmury:","#000"],
 [10,573,"średnie","#a0a0a0"],[10,586,"niskie","#404040"],[10,598,"bardzo niskie","#111"],
 [6,609,"Mgła","#ffb000"]];
svg.append("rect").attr("x",11).attr("y",505).attr("width",44).attr("height",11).attr("fill",sky);
svg.append("rect").attr("x",9).attr("y",551).attr("width",42).attr("height",12).attr("fill",sky);
rows.forEach(d => label(d[0],d[1],d[2],d[3],"start",10.7));
label(11,514,"> 0.1 okt.","#fff","start",10.7);
label(10,560,"wysokie","#fff","start",10.7);
label(6,626,"Czas uniwersalny (UTC)","#000","start",12);
label(5,651,"* powyżej poziomu morza","#000","start",8.6).attr("font-weight","bold");

// leader lines from the legend to the small panels
const leaders = [
 ["#000",[[67,16],[131,16],[156,45]]],
 [brown,[[102,43],[120,43],[156,100]]],
 [red,[[92,76],[115,76]]],[red,[[130,76],[135,78],[155,100]]],
 ["#0010e0",[[70,99],[135,99]]],
 ["#6a5acd",[[94,120],[115,120],[136,113]]],
 [red,[[103,137],[138,137],[146,147]]],
 [humColor,[[107,151],[111,151]]],[humColor,[[130,151],[140,156],[147,166]]],
 ["#000",[[104,166],[113,166]]],["#000",[[129,166],[135,168],[139,173]]],
 [green,[[71,179],[140,179]]],[green,[[80,190],[146,190]]],
 [blue,[[70,202],[110,202]]],[blue,[[130,202],[160,172]]],
 [blue,[[81,213],[130,213],[160,172]]],
 [red,[[96,224],[143,224],[146,221]]],
 ["#000",[[52,264],[125,264],[136,262]]],
 [red,[[112,335],[118,335]]],[red,[[130,335],[135,322],[138,316]]],
 [red,[[107,348],[128,348],[146,340]]],
 [navy,[[92,367],[135,367]]],
 [navy,[[86,410],[135,410],[141,413]]],
 [brown,[[100,431],[133,431],[184,447]]],
 ["#000",[[58,469],[135,469],[191,455]]],
 ["#505050",[[58,480],[143,480]]],
 ["#a0a0a0",[[55,491],[131,491],[143,503]]],
 ["#d8d8d8",[[55,501],[131,501],[138,506]]],
 [visColor,[[67,527],[130,527],[172,465]]],
 ["#a0a0a0",[[49,572],[193,572]]],
 ["#404040",[[38,582],[120,582]]],
 ["#000",[[74,594],[135,594],[150,592]]],
 ["#ffb000",[[26,605],[216,605],[220,600]]],
 ["#000",[[140,623],[148,623],[158,608]]]];
leaders.forEach(d => svg.append("path").attr("fill","none").attr("stroke",d[0]).attr("stroke-width",1)
  .attr("d",d3.line()(d[1])));
[[[58,511],[135,511]],[[54,557],[185,557]]].forEach(pts => {
  svg.append("path").attr("d",d3.line()(pts)).attr("stroke",sky).attr("stroke-width",3).attr("fill","none");
  svg.append("path").attr("d",d3.line()(pts)).attr("stroke","#fff").attr("stroke-width",1).attr("fill","none");
});
</script>
</body>
</html>
